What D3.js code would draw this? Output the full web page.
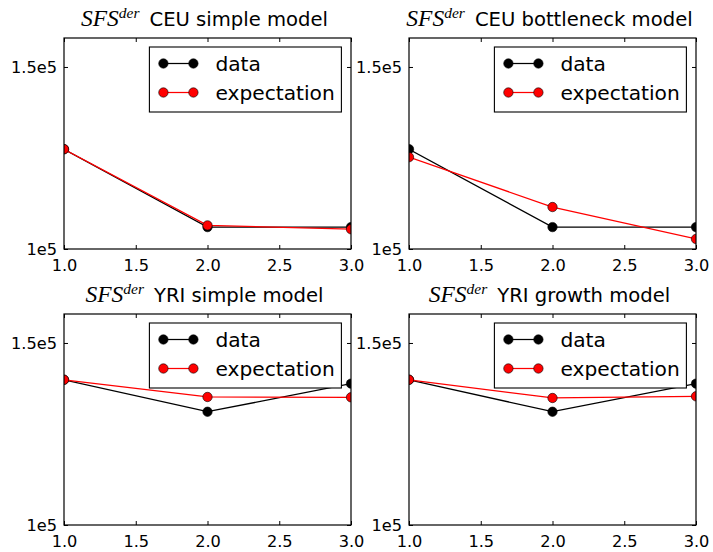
<!DOCTYPE html>
<html>
<head>
<meta charset="utf-8">
<script src="https://cdn.jsdelivr.net/npm/d3@7"></script>
<style>
  html, body { margin: 0; padding: 0; background: #ffffff; }
  svg { display: block; }
</style>
</head>
<body>
<svg id="chart" width="713" height="552"></svg>
<script>
// Site frequency spectrum of derived alleles: observed counts vs. model expectation
const xValues = [1, 2, 3];
const xTicks = [1.0, 1.5, 2.0, 2.5, 3.0];
const yTicks = [1e5, 1.5e5];
const yTickLabels = ["1e5", "1.5e5"];
const yDomain = [1e5, 1.6e5];

const ceuData = [1.249e5, 1.050e5, 1.050e5];
const ceuSimpleExpectation = [1.249e5, 1.054e5, 1.045e5];
const ceuBottleneckExpectation = [1.227e5, 1.098e5, 1.0225e5];
const yriData = [1.382e5, 1.287e5, 1.370e5];
const yriSimpleExpectation = [1.382e5, 1.330e5, 1.329e5];
const yriGrowthExpectation = [1.382e5, 1.327e5, 1.332e5];

const panelTitles = ["CEU simple model", "CEU bottleneck model", "YRI simple model", "YRI growth model"];
const seriesNames = ["data", "expectation"];

const panels = [
  { title: panelTitles[0], data: ceuData, expectation: ceuSimpleExpectation, left: 64, top: 38 },
  { title: panelTitles[1], data: ceuData, expectation: ceuBottleneckExpectation, left: 409, top: 38 },
  { title: panelTitles[2], data: yriData, expectation: yriSimpleExpectation, left: 64, top: 314 },
  { title: panelTitles[3], data: yriData, expectation: yriGrowthExpectation, left: 409, top: 314 }
];

const W = 287, H = 211;
const tickFont = "DejaVu Sans, sans-serif";
const svg = d3.select("#chart");

panels.forEach((p, i) => {
  const g = svg.append("g").attr("transform", `translate(${p.left},${p.top})`);
  const x = d3.scaleLinear().domain([1, 3]).range([0, W]);
  const y = d3.scaleLog().domain(yDomain).range([H, 0]);

  const clipId = "clip" + i;
  g.append("clipPath").attr("id", clipId)
    .append("rect").attr("x", 0).attr("y", 0).attr("width", W).attr("height", H);

  g.append("rect").attr("width", W).attr("height", H).attr("fill", "#ffffff");

  const plot = g.append("g").attr("clip-path", `url(#${clipId})`);
  const line = d3.line().x((d, k) => x(xValues[k])).y(d => y(d));

  const series = [
    { values: p.data, color: "#000000" },
    { values: p.expectation, color: "#ff0000" }
  ];
  series.forEach(s => {
    plot.append("path").datum(s.values)
      .attr("d", line).attr("fill", "none")
      .attr("stroke", s.color).attr("stroke-width", 1.25);
    plot.selectAll(null).data(s.values).enter().append("circle")
      .attr("cx", (d, k) => x(xValues[k])).attr("cy", d => y(d))
      .attr("r", 4.7).attr("fill", s.color)
      .attr("stroke", "#000000").attr("stroke-width", 0.6);
  });

  // inward ticks on all four sides
  const bottomAxis = d3.axisBottom(x).tickValues(xTicks).tickSizeInner(-4).tickSizeOuter(0)
    .tickPadding(10).tickFormat(d3.format(".1f"));
  const topAxis = d3.axisTop(x).tickValues(xTicks).tickSizeInner(-4).tickSizeOuter(0).tickFormat("");
  const leftAxis = d3.axisLeft(y).tickValues(yTicks).tickSizeInner(-4).tickSizeOuter(0)
    .tickPadding(7).tickFormat((d, k) => yTickLabels[k]);
  const rightAxis = d3.axisRight(y).tickValues(yTicks).tickSizeInner(-4).tickSizeOuter(0).tickFormat("");

  const axes = [
    g.append("g").attr("transform", `translate(0,${H})`).call(bottomAxis),
    g.append("g").call(topAxis),
    g.append("g").call(leftAxis),
    g.append("g").attr("transform", `translate(${W},0)`).call(rightAxis)
  ];
  axes.forEach(a => {
    a.select(".domain").remove();
    a.selectAll(".tick line").attr("stroke", "#000000").attr("stroke-width", 1);
    a.selectAll("text").attr("font-family", tickFont).attr("font-size", 16.2).attr("fill", "#000000");
  });
  axes[0].selectAll("text").attr("dy", "0.71em");
  axes[2].selectAll("text").attr("dy", "0.36em");

  g.append("rect").attr("width", W).attr("height", H)
    .attr("fill", "none").attr("stroke", "#000000").attr("stroke-width", 1.2);

  // title: math-style SFS^der followed by the model name
  const title = g.append("text")
    .attr("x", W / 2 - 3).attr("y", -12)
    .attr("text-anchor", "middle").attr("fill", "#000000");
  title.append("tspan").text("SFS")
    .attr("font-family", "Liberation Serif, serif").attr("font-style", "italic").attr("font-size", 23.5);
  title.append("tspan").text("der")
    .attr("font-family", "Liberation Serif, serif").attr("font-style", "italic").attr("font-size", 15.5)
    .attr("dy", -8);
  title.append("tspan").text(p.title)
    .attr("font-family", tickFont).attr("font-size", 19.6)
    .attr("dx", 10).attr("dy", 8);

  // legend in the upper right corner
  const lw = 192, lh = 65;
  const lg = g.append("g").attr("transform", `translate(${W - 9.6 - lw},9)`);
  lg.append("rect").attr("width", lw).attr("height", lh)
    .attr("fill", "#ffffff").attr("stroke", "#000000").attr("stroke-width", 1.1);
  series.forEach((s, k) => {
    const cy = 16.5 + k * 29;
    lg.append("line").attr("x1", 14).attr("x2", 44).attr("y1", cy).attr("y2", cy)
      .attr("stroke", s.color).attr("stroke-width", 1.25);
    [14, 44].forEach(cx => {
      lg.append("circle").attr("cx", cx).attr("cy", cy).attr("r", 4.7)
        .attr("fill", s.color).attr("stroke", "#000000").attr("stroke-width", 0.6);
    });
    lg.append("text").attr("x", 66).attr("y", cy).attr("dy", "0.36em")
      .attr("font-family", tickFont).attr("font-size", 20.2).attr("fill", "#000000")
      .text(seriesNames[k]);
  });
});
</script>
</body>
</html>
